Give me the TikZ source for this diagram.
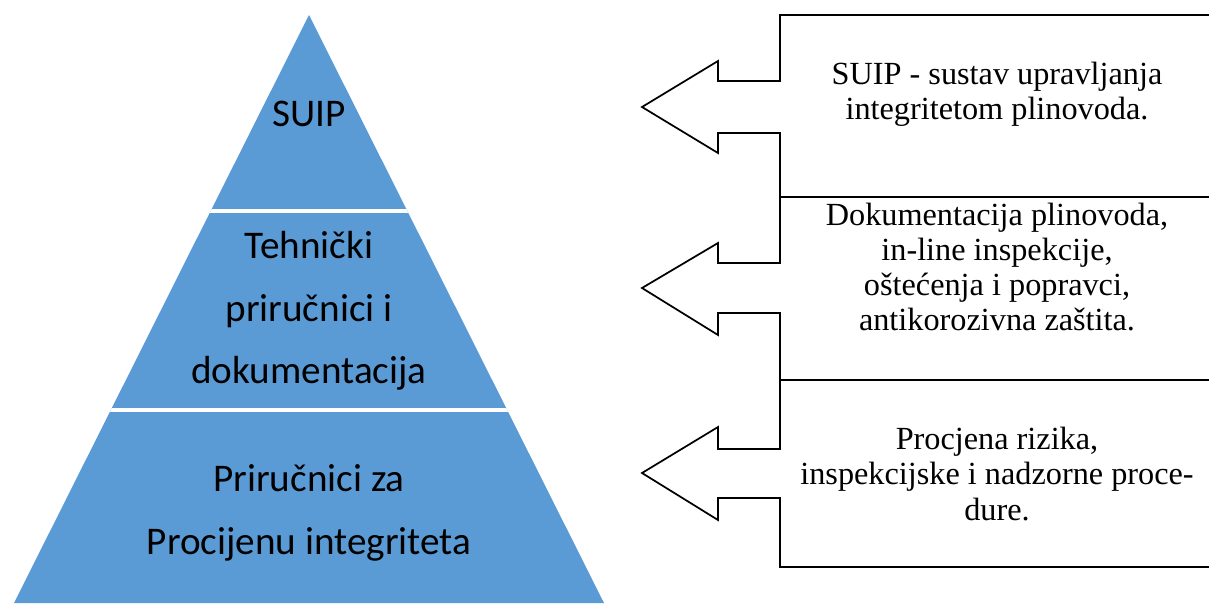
\documentclass[tikz,border=0pt]{standalone}
\usepackage{fontspec}
\setmainfont{Liberation Serif}
\newfontfamily\calib{Carlito}
\definecolor{pyrblue}{HTML}{5B9BD5}
\tikzset{
  pyrtext/.style={align=center, inner sep=0pt, font=\calib\fontsize{29.4}{47}\selectfont},
  boxtext/.style={align=center, inner sep=0pt, font=\fontsize{24.2}{26.3}\selectfont},
  callout/.style={draw=black, line width=1.3pt, line join=miter},
  sep/.style={draw=white, line width=2.4pt}
}
\begin{document}
\begin{tikzpicture}[x=0.75pt,y=-0.75pt]
\useasboundingbox (0,0) rectangle (1209,603);
% pyramid
\fill[pyrblue] (309,15) -- (604,603) -- (14,603) -- cycle;
\begin{scope}
  \clip (309,15) -- (604,603) -- (14,603) -- cycle;
  \draw[sep] (0,211) -- (620,211);
  \draw[sep] (0,410) -- (620,410);
\end{scope}
\node[pyrtext] (top) at (309,114) {SUIP};
\node[pyrtext] (mid) at (309,311) {Tehnički\\priručnici i\\dokumentacija};
\node[pyrtext] (bot) at (309,513) {Priručnici za\\Procijenu integriteta};
% callouts
\draw[callout] (1212,15) -- (780,15) -- (780,81) -- (718,81) -- (718,61) -- (642,107) -- (718,153) -- (718,133) -- (780,133) -- (780,197) -- (1212,197);
\draw[callout] (1212,197) -- (780,197) -- (780,263) -- (718,263) -- (718,243) -- (642,288) -- (718,335) -- (718,313) -- (780,313) -- (780,380) -- (1212,380);
\draw[callout] (1212,380) -- (780,380) -- (780,449) -- (718,449) -- (718,427) -- (642,473) -- (718,520) -- (718,498) -- (780,498) -- (780,567) -- (1212,567);
\node[boxtext] (t1) at (997,94) {SUIP - sustav upravljanja\\integritetom plinovoda.};
\node[boxtext] (t2) at (997,267) {Dokumentacija plinovoda,\\in-line inspekcije,\\oštećenja i popravci,\\antikorozivna zaštita.};
\node[boxtext] (t3) at (997,474) {Procjena rizika,\\inspekcijske i nadzorne proce-\\dure.};
\end{tikzpicture}
\end{document}
